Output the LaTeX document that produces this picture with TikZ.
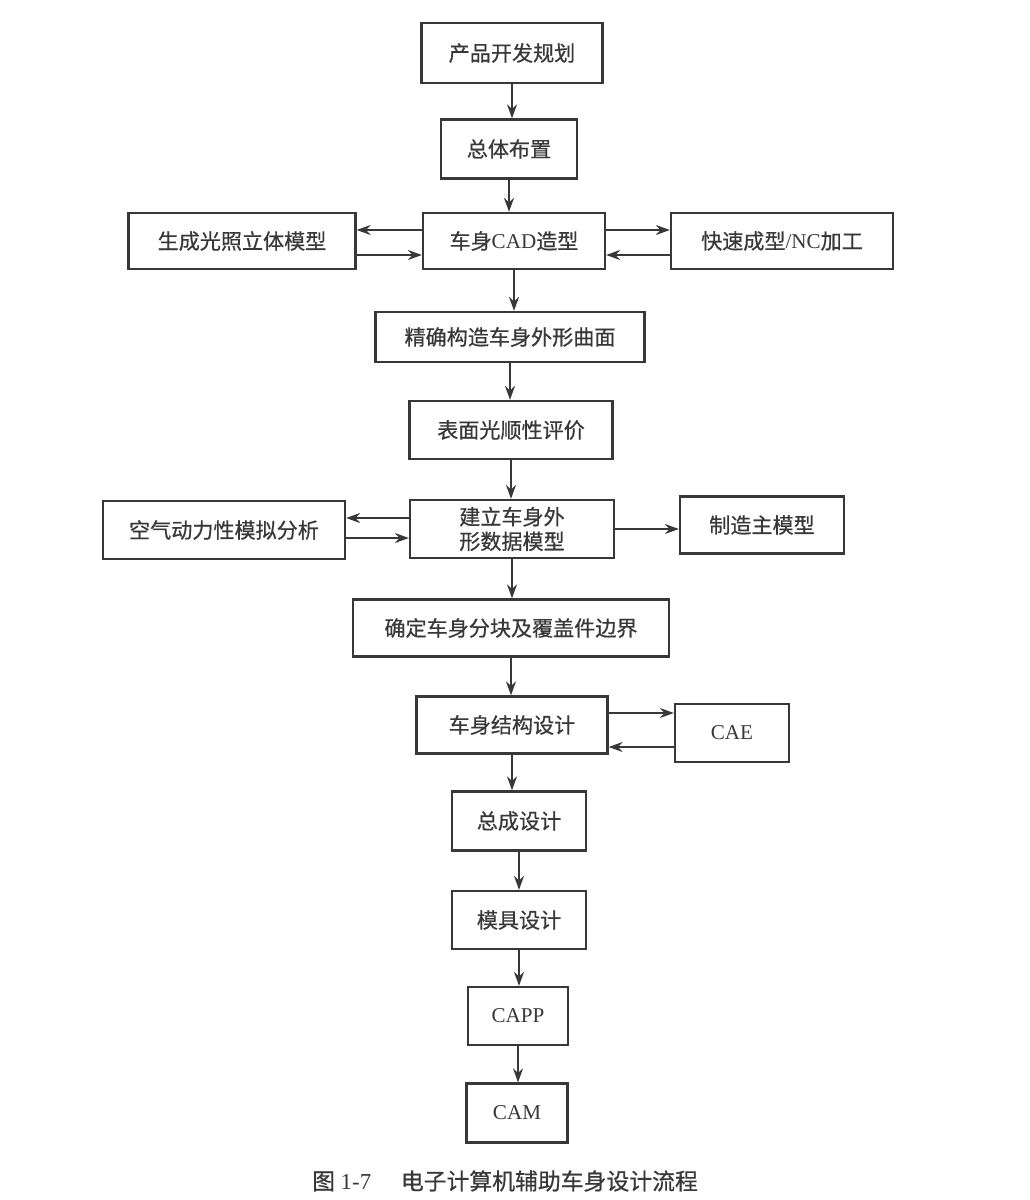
\documentclass[tikz,border=0pt]{standalone}
\usepackage{fontspec}
\setmainfont{Liberation Serif}
\newfontfamily\cjk[FakeBold=0.6]{Noto Sans CJK SC}
\usetikzlibrary{arrows.meta}
\definecolor{ink}{gray}{0.22}

\begin{document}
\begin{tikzpicture}[
        x=0.02cm, y=-0.02cm,
        box/.style={
            draw=ink, line width=1.3pt, fill=white, inner sep=1pt,
            font=\fontsize{12}{14}\selectfont\cjk, text=ink, align=center
        },
        flow/.style={draw=ink, line width=1.1pt, -{Stealth[length=2.8mm, width=2mm]}}
    ]

    % Page
    \useasboundingbox[fill=white] (0,0) rectangle (1030,1200);

    % Main column
    \node[box, minimum width=3.62cm, minimum height=1.2cm] (plan) at (512, 53) {产品开发规划};
    \node[box, minimum width=2.72cm, minimum height=1.18cm] (layout) at (509, 149) {总体布置};
    \node[box, minimum width=3.64cm, minimum height=1.12cm] (cad) at (514, 241) {车身{\rmfamily CAD}造型};
    \node[box, minimum width=5.38cm, minimum height=1.0cm] (surf) at (510, 337) {精确构造车身外形曲面};
    \node[box, minimum width=4.06cm, minimum height=1.16cm] (fair) at (511, 430) {表面光顺性评价};
    \node[box, minimum width=4.08cm, minimum height=1.16cm] (datamod) at (512, 529) {建立车身外\\形数据模型};
    \node[box, minimum width=6.32cm, minimum height=1.14cm] (split) at (511, 628) {确定车身分块及覆盖件边界};
    \node[box, minimum width=3.82cm, minimum height=1.14cm] (struct) at (512, 725) {车身结构设计};
    \node[box, minimum width=2.68cm, minimum height=1.18cm] (assy) at (519, 821) {总成设计};
    \node[box, minimum width=2.68cm, minimum height=1.16cm] (die) at (519, 920) {模具设计};
    \node[box, minimum width=2.0cm, minimum height=1.16cm] (capp) at (518, 1016) {\rmfamily CAPP};
    \node[box, minimum width=2.02cm, minimum height=1.18cm] (cam) at (517, 1113) {\rmfamily CAM};

    % Side boxes
    \node[box, minimum width=4.54cm, minimum height=1.12cm] (render) at (242, 241) {生成光照立体模型};
    \node[box, minimum width=4.44cm, minimum height=1.12cm] (rapid) at (782, 241) {快速成型{\rmfamily /NC}加工};
    \node[box, minimum width=4.84cm, minimum height=1.16cm] (aero) at (224, 530) {空气动力性模拟分析};
    \node[box, minimum width=3.28cm, minimum height=1.14cm] (master) at (762, 525) {制造主模型};
    \node[box, minimum width=2.28cm, minimum height=1.16cm] (cae) at (732, 733) {\rmfamily CAE};

    % Caption
    \node[font=\fontsize{13}{15}\selectfont, text=ink] (caption) at (505, 1181)
        {{\cjk 图} 1-7\hspace{1.3em}{\cjk 电子计算机辅助车身设计流程}};

    % Downward flow
    \draw[flow] (plan.south) -- (plan.south |- layout.north);
    \draw[flow] (layout.south) -- (layout.south |- cad.north);
    \draw[flow] (cad.south) -- (cad.south |- surf.north);
    \draw[flow] (surf.south) -- (surf.south |- fair.north);
    \draw[flow] (fair.south) -- (fair.south |- datamod.north);
    \draw[flow] (datamod.south) -- (datamod.south |- split.north);
    \draw[flow] (split.south) -- (split.south |- struct.north);
    \draw[flow] (struct.south) -- (struct.south |- assy.north);
    \draw[flow] (assy.south) -- (assy.south |- die.north);
    \draw[flow] (die.south) -- (die.south |- capp.north);
    \draw[flow] (capp.south) -- (capp.south |- cam.north);

    % Side loops
    \draw[flow] ([yshift=2.2mm]cad.west) -- ([yshift=2.2mm]cad.west -| render.east);
    \draw[flow] ([yshift=-2.8mm]render.east) -- ([yshift=-2.8mm]render.east -| cad.west);
    \draw[flow] ([yshift=2.2mm]cad.east) -- ([yshift=2.2mm]cad.east -| rapid.west);
    \draw[flow] ([yshift=-2.8mm]rapid.west) -- ([yshift=-2.8mm]rapid.west -| cad.east);
    \draw[flow] ([yshift=2.2mm]datamod.west) -- ([yshift=2.2mm]datamod.west -| aero.east);
    \draw[flow] ([yshift=-1.6mm]aero.east) -- ([yshift=-1.6mm]aero.east -| datamod.west);
    \draw[flow] (datamod.east) -- (datamod.east -| master.west);
    \draw[flow] ([yshift=2.4mm]struct.east) -- ([yshift=2.4mm]struct.east -| cae.west);
    \draw[flow] ([yshift=-2.8mm]cae.west) -- ([yshift=-2.8mm]cae.west -| struct.east);

\end{tikzpicture}
\end{document}
